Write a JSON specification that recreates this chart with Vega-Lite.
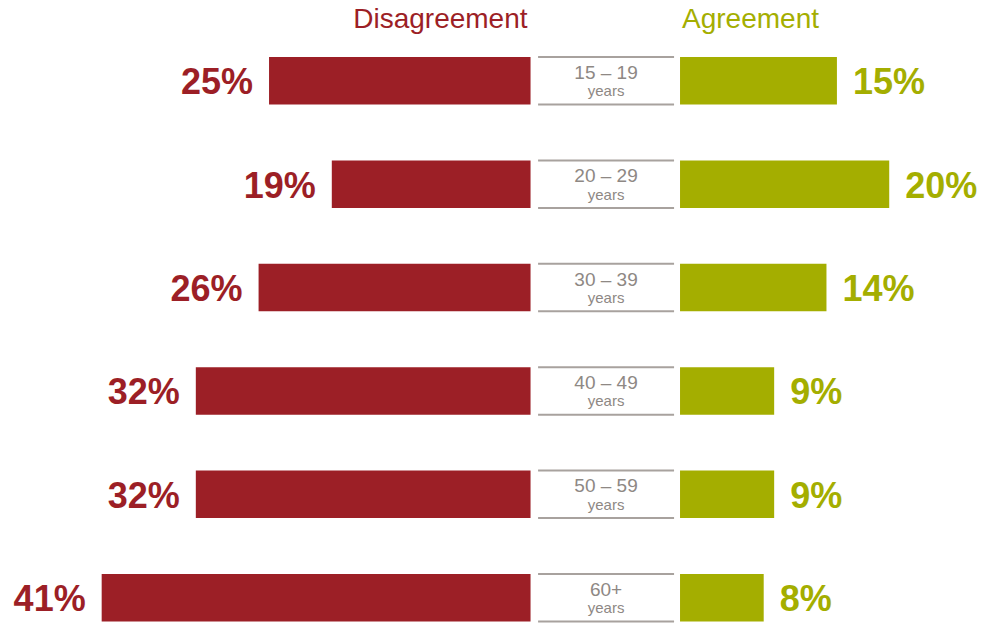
{
  "$schema": "https://vega.github.io/schema/vega-lite/v6.json",
  "width": 984,
  "height": 624,
  "padding": 0,
  "autosize": {"type": "fit", "contains": "padding"},
  "background": "white",
  "config": {"view": {"stroke": null}, "font": "Liberation Sans"},
  "data": {
    "values": [
      {"age": "15 – 19", "dis": 0.25, "agr": 0.15},
      {"age": "20 – 29", "dis": 0.19, "agr": 0.20},
      {"age": "30 – 39", "dis": 0.26, "agr": 0.14},
      {"age": "40 – 49", "dis": 0.32, "agr": 0.09},
      {"age": "50 – 59", "dis": 0.32, "agr": 0.09},
      {"age": "60+", "dis": 0.41, "agr": 0.08}
    ]
  },
  "encoding": {
    "y": {
      "field": "age", "type": "nominal", "axis": null,
      "scale": {"domain": ["15 – 19", "20 – 29", "30 – 39", "40 – 49", "50 – 59", "60+"], "range": [57, 621.5], "paddingInner": 0.54, "paddingOuter": 0}
    }
  },
  "resolve": {"scale": {"x": "independent"}},
  "layer": [
    {
      "mark": {"type": "bar", "color": "#9C1F26"},
      "encoding": {
        "x": {"field": "dis", "type": "quantitative", "axis": null, "scale": {"domain": [-0.4335, 0.5072], "reverse": true, "nice": false, "zero": false}},
        "x2": {"datum": 0}
      }
    },
    {
      "mark": {"type": "text", "align": "right", "baseline": "alphabetic", "dx": -16, "dy": 13.5, "fontSize": 36, "fontWeight": "bold", "color": "#9C1F26"},
      "encoding": {
        "x": {"field": "dis", "type": "quantitative", "axis": null, "scale": {"domain": [-0.4335, 0.5072], "reverse": true, "nice": false, "zero": false}},
        "text": {"field": "dis", "type": "quantitative", "format": ".0%"}
      }
    },
    {
      "mark": {"type": "bar", "color": "#A4AE00"},
      "encoding": {
        "x": {"field": "agr", "type": "quantitative", "axis": null, "scale": {"domain": [-0.6501, 0.2906], "nice": false, "zero": false}},
        "x2": {"datum": 0}
      }
    },
    {
      "mark": {"type": "text", "align": "left", "baseline": "alphabetic", "dx": 16, "dy": 13.5, "fontSize": 36, "fontWeight": "bold", "color": "#A4AE00"},
      "encoding": {
        "x": {"field": "agr", "type": "quantitative", "axis": null, "scale": {"domain": [-0.6501, 0.2906], "nice": false, "zero": false}},
        "text": {"field": "agr", "type": "quantitative", "format": ".0%"}
      }
    },
    {
      "mark": {"type": "rule", "color": "#A8A29E", "strokeWidth": 2},
      "encoding": {
        "x": {"datum": -0.0072, "type": "quantitative", "axis": null, "scale": {"domain": [-0.4335, 0.5072], "reverse": true, "nice": false, "zero": false}},
        "x2": {"datum": -0.1372},
        "y": {"field": "age", "type": "nominal", "bandPosition": 0}
      }
    },
    {
      "mark": {"type": "rule", "color": "#A8A29E", "strokeWidth": 2},
      "encoding": {
        "x": {"datum": -0.0072, "type": "quantitative", "axis": null, "scale": {"domain": [-0.4335, 0.5072], "reverse": true, "nice": false, "zero": false}},
        "x2": {"datum": -0.1372},
        "y": {"field": "age", "type": "nominal", "bandPosition": 1}
      }
    },
    {
      "mark": {"type": "text", "align": "center", "baseline": "alphabetic", "dy": -2, "fontSize": 19, "color": "#8E8884"},
      "encoding": {
        "x": {"datum": -0.0722, "type": "quantitative", "axis": null, "scale": {"domain": [-0.4335, 0.5072], "reverse": true, "nice": false, "zero": false}},
        "text": {"field": "age", "type": "nominal"}
      }
    },
    {
      "mark": {"type": "text", "align": "center", "baseline": "alphabetic", "dy": 15.5, "fontSize": 15, "color": "#8E8884", "text": "years"},
      "encoding": {
        "x": {"datum": -0.0722, "type": "quantitative", "axis": null, "scale": {"domain": [-0.4335, 0.5072], "reverse": true, "nice": false, "zero": false}}
      }
    },
    {
      "data": {"values": [{"label": "Disagreement", "age": "15 – 19"}]},
      "mark": {"type": "text", "align": "right", "baseline": "alphabetic", "dx": -3, "dy": -29, "fontSize": 28, "color": "#9C1F26"},
      "encoding": {
        "x": {"datum": 0, "type": "quantitative", "axis": null, "scale": {"domain": [-0.4335, 0.5072], "reverse": true, "nice": false, "zero": false}},
        "y": {"field": "age", "type": "nominal", "bandPosition": 0},
        "text": {"field": "label", "type": "nominal"}
      }
    },
    {
      "data": {"values": [{"label": "Agreement", "age": "15 – 19"}]},
      "mark": {"type": "text", "align": "left", "baseline": "alphabetic", "dx": 2, "dy": -29, "fontSize": 28, "color": "#A4AE00"},
      "encoding": {
        "x": {"datum": 0, "type": "quantitative", "axis": null, "scale": {"domain": [-0.6501, 0.2906], "nice": false, "zero": false}},
        "y": {"field": "age", "type": "nominal", "bandPosition": 0},
        "text": {"field": "label", "type": "nominal"}
      }
    }
  ]
}
